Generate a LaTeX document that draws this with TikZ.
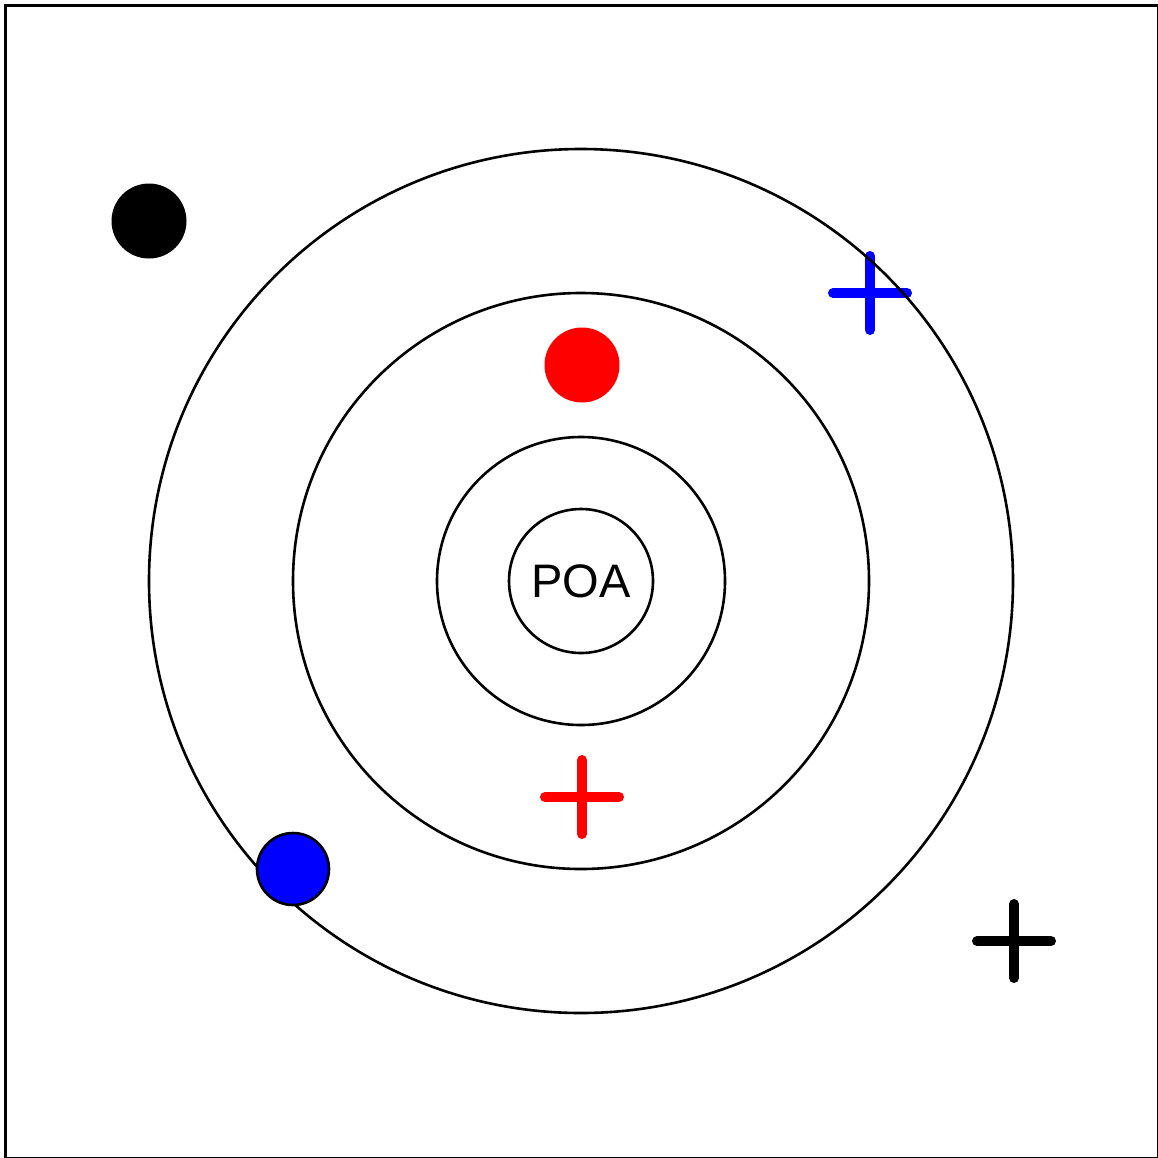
\documentclass[tikz,border=0pt]{standalone}
\usepackage{fontspec}
\setmainfont{Liberation Sans}
\begin{document}
\begin{tikzpicture}[x=1pt,y=-1pt,
  ring/.style={circle,draw=black,line width=2.6pt,inner sep=0pt,minimum size=#1},
  dot/.style={circle,fill=#1,inner sep=0pt,minimum size=75pt},
  crossmark/.style={line width=10pt,line cap=round,draw=#1}]
\useasboundingbox (0,0) rectangle (1158,1157);
\draw[line width=3pt] (5.5,5.5) rectangle (1158.5,1158.5);
% blue plus (under circles)
\coordinate (bp) at (870,293);
\draw[crossmark=blue] ([xshift=-37pt]bp) -- ([xshift=37pt]bp);
\draw[crossmark=blue] ([yshift=-37pt]bp) -- ([yshift=37pt]bp);
% rings
\node[ring=864pt] (r4) at (581,581) {};
\node[ring=576pt] (r3) at (581,581) {};
\node[ring=288pt] (r2) at (581,581) {};
\node[ring=144pt,font=\fontsize{47}{50}\selectfont] (poa) at (581,581) {POA};
% dots
\node[dot=black] (bd) at (149,221) {};
\node[dot=red] (rd) at (582,365) {};
\node[dot=blue,draw=black,line width=2.6pt,minimum size=72pt] (bld) at (293,869) {};
% red plus
\coordinate (rp) at (582,797);
\draw[crossmark=red] ([xshift=-37pt]rp) -- ([xshift=37pt]rp);
\draw[crossmark=red] ([yshift=-37pt]rp) -- ([yshift=37pt]rp);
% black plus
\coordinate (kp) at (1014,941);
\draw[crossmark=black] ([xshift=-37pt]kp) -- ([xshift=37pt]kp);
\draw[crossmark=black] ([yshift=-37pt]kp) -- ([yshift=37pt]kp);
\end{tikzpicture}
\end{document}
